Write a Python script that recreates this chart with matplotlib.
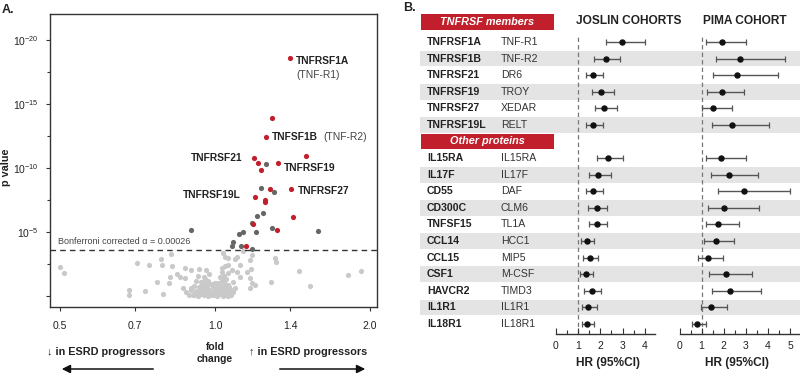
import numpy as np
import matplotlib
matplotlib.use('Agg')
import matplotlib.pyplot as plt
from matplotlib.patches import Rectangle
from matplotlib.ticker import FixedLocator, NullLocator, FixedFormatter
from matplotlib.transforms import blended_transform_factory

plt.rcParams['font.family'] = ['Liberation Sans', 'DejaVu Sans']
plt.rcParams['mathtext.fontset'] = 'custom'
plt.rcParams['mathtext.rm'] = 'Liberation Sans'
plt.rcParams['mathtext.it'] = 'Liberation Sans:italic'
plt.rcParams['mathtext.bf'] = 'Liberation Sans:bold'

# ---------------- Panel A data: fold change, -log10(p) ----------------
red_fc = [1.398, 1.289, 1.256, 1.502, 1.190, 1.210, 1.327, 1.227, 1.279, 1.403,
          1.196, 1.250, 1.253, 1.415, 1.187, 1.321, 1.149]
red_v = [18.6, 13.93, 12.4, 10.94, 10.8, 10.37, 10.41, 9.87, 8.38, 8.38,
         7.76, 7.37, 7.5, 6.15, 5.6, 5.16, 3.93]

dark_fc = [1.256, 1.227, 1.302, 1.238, 1.205, 1.180, 1.289, 0.898, 1.583, 1.200,
           1.115, 1.132, 1.085, 1.080, 1.125, 1.180]
dark_v = [10.34, 8.41, 8.13, 6.46, 6.25, 5.73, 5.34, 5.16, 5.05, 4.97,
          4.84, 4.97, 4.19, 3.93, 3.93, 3.65]

light_fc = [0.50, 0.51, 0.68, 0.68, 0.705, 0.73, 0.745, 0.77, 0.787, 0.79,
            0.792, 0.823, 0.825, 0.818, 0.815, 0.842, 0.855, 0.866, 0.874, 0.874,
            0.90, 0.905,
            1.036, 1.046, 1.061, 1.094, 1.178, 1.169, 1.308, 1.314, 1.046, 1.061,
            1.077, 1.102, 1.152, 1.173, 1.169, 1.178, 1.196, 1.169, 1.285, 1.458,
            1.53, 1.81, 1.92, 1.023, 1.03, 1.085, 1.094, 1.069, 1.132, 1.118,
            1.104, 1.118,
            0.89, 0.91, 0.925, 0.94, 0.95, 0.96, 0.97, 0.985, 1.0, 1.01,
            1.02, 1.035, 1.05, 1.06, 1.075,
            0.90, 0.92, 0.935, 0.95, 0.965, 0.98, 0.995, 1.01, 1.025, 1.04,
            1.055, 1.07,
            0.91, 0.93, 0.945, 0.96, 0.975, 0.99, 1.015, 1.03, 1.045, 1.06,
            0.92, 0.94, 0.955, 0.97, 1.0, 1.03, 1.05,
            0.925, 0.95, 0.975, 1.04, 1.06,
            0.93, 0.96, 1.03,
            0.88, 0.915, 0.933, 0.945, 0.958, 0.978, 0.993, 1.005, 1.018, 1.028,
            1.042, 1.058, 1.068, 1.085, 0.897, 0.938, 0.953, 0.968, 1.008, 1.022,
            1.048, 1.065, 0.943, 0.962, 0.988, 1.012, 1.038]
light_v = [2.25, 1.77, 0.47, 0.08, 2.55, 0.41, 2.42, 1.07, 2.86, 2.42,
           0.13, 3.28, 2.34, 1.45, 1.04, 1.69, 1.45, 0.65, 1.38, 2.2,
           2.03, 0.08,
           3.38, 3.02, 2.94, 2.89, 3.2, 2.81, 2.94, 2.68, 2.34, 2.42,
           2.03, 1.9, 1.9, 2.09, 1.38, 0.99, 0.86, 0.6, 1.07, 1.95,
           0.8, 1.64, 1.95, 1.51, 1.9, 1.12, 0.6, 0.21, 3.49, 2.42,
           3.02, 1.51,
           0.05, 0.1, 0.0, 0.12, 0.04, 0.15, 0.02, 0.1, 0.05, 0.0,
           0.12, 0.03, 0.08, 0.02, 0.1,
           0.45, 0.38, 0.5, 0.35, 0.55, 0.42, 0.33, 0.5, 0.4, 0.48,
           0.36, 0.52,
           0.8, 0.72, 0.9, 0.78, 0.95, 0.7, 0.85, 0.75, 0.92, 0.82,
           1.2, 1.1, 1.3, 1.15, 1.05, 1.25, 1.35,
           1.6, 1.5, 1.75, 1.55, 1.8,
           2.1, 2.0, 2.2,
           0.3, 0.25, 0.2, 0.28, 0.22, 0.27, 0.18, 0.24, 0.26, 0.2,
           0.25, 0.22, 0.3, 0.35, 0.62, 0.6, 0.65, 0.58, 0.62, 0.6,
           0.66, 0.7, 1.0, 0.95, 0.9, 1.0, 1.1]

bonferroni_p = 0.00026
x_ticks = [0.5, 0.7, 1.0, 1.4, 2.0]
x_ticklabels = ['0.5', '0.7', '1.0', '1.4', '2.0']
y_ticks = [0, 5, 10, 15, 20]
y_ticklabels = ['', r'$10^{-5}$', r'$10^{-10}$', r'$10^{-15}$', r'$10^{-20}$']

# labels: (text, fc, v, dx pt, dy pt, ha)
vol_labels = [('TNFRSF1A', 1.398, 18.6, 4.3, -2.4, 'left'),
              ('TNFSF1B', 1.256, 12.4, 4.3, 0.0, 'left'),
              ('TNFRSF21', 1.190, 10.8, -8.6, 0.0, 'right'),
              ('TNFRSF19', 1.327, 10.41, 4.1, -3.8, 'left'),
              ('TNFRSF19L', 1.196, 7.76, -10.0, 0.9, 'right'),
              ('TNFRSF27', 1.403, 8.38, 5.3, -1.7, 'left')]
vol_sublabels = [('(TNF-R1)', 1.398, 18.6, 4.3, -12.5),
                 ('(TNF-R2)', 1.256, 12.4, 41.0, 0.0)]

# ---------------- Panel B data ----------------
genes = ['TNFRSF1A', 'TNFRSF1B', 'TNFRSF21', 'TNFRSF19', 'TNFRSF27', 'TNFRSF19L',
         'IL15RA', 'IL17F', 'CD55', 'CD300C', 'TNFSF15', 'CCL14', 'CCL15', 'CSF1',
         'HAVCR2', 'IL1R1', 'IL18R1']
proteins = ['TNF-R1', 'TNF-R2', 'DR6', 'TROY', 'XEDAR', 'RELT',
            'IL15RA', 'IL17F', 'DAF', 'CLM6', 'TL1A', 'HCC1', 'MIP5', 'M-CSF',
            'TIMD3', 'IL1R1', 'IL18R1']
row_pos = [0, 1, 2, 3, 4, 5, 7, 8, 9, 10, 11, 12, 13, 14, 15, 16, 17]
shaded_rows = [1, 3, 5, 8, 10, 12, 14, 16]
group_headers = ['TNFRSF members', 'Other proteins']

joslin_hr = [2.99, 2.24, 1.66, 2.03, 2.16, 1.66, 2.36, 1.91, 1.66, 1.84, 1.84, 1.39, 1.54, 1.36, 1.61, 1.46, 1.42]
joslin_lo = [2.24, 1.72, 1.34, 1.61, 1.76, 1.34, 1.87, 1.49, 1.34, 1.46, 1.49, 1.13, 1.24, 1.09, 1.28, 1.19, 1.16]
joslin_hi = [4.00, 2.88, 2.13, 2.63, 2.73, 2.10, 3.03, 2.46, 2.13, 2.31, 2.28, 1.72, 1.91, 1.66, 2.03, 1.84, 1.73]
pima_hr = [1.91, 2.74, 2.62, 1.91, 1.53, 2.39, 1.88, 2.24, 2.92, 2.02, 1.73, 1.65, 1.30, 2.11, 2.29, 1.42, 0.80]
pima_lo = [1.20, 1.64, 1.53, 1.26, 1.00, 1.45, 1.20, 1.41, 1.73, 1.30, 1.18, 1.12, 0.85, 1.35, 1.45, 0.97, 0.55]
pima_hi = [3.02, 4.76, 4.45, 2.92, 2.36, 4.06, 3.00, 3.55, 5.02, 3.61, 2.71, 2.48, 1.95, 3.30, 3.70, 2.17, 1.20]

# ---------------- figure ----------------
W, H = 800, 373
fig = plt.figure(figsize=(8, 3.73), dpi=100)


def fx(px):
    return px / W


def fy(py):
    return 1 - py / H


RED = '#c01f2b'
DARK = '#666666'
LIGHT = '#c9c9c9'
TXT = '#222222'

# ---------- Panel A ----------
ax = fig.add_axes([fx(50), fy(307), 327 / W, 293 / H])
ax.set_xscale('log')
ax.set_xlim(0.478, 2.064)
ax.set_ylim(-0.86, 22.03)
ax.scatter(light_fc, light_v, s=14, c=LIGHT, linewidths=0, zorder=2)
ax.scatter(dark_fc, dark_v, s=14, c=DARK, linewidths=0, zorder=3)
ax.scatter(red_fc, red_v, s=14, c=RED, linewidths=0, zorder=4)
bonf = -np.log10(bonferroni_p)
ax.axhline(bonf, color='#333333', lw=1.0, dashes=(4, 3), zorder=5)
ax.text(0.0245, bonf + 0.7, 'Bonferroni corrected α = 0.00026', fontsize=6.5,
        color='#444444', va='center', ha='left',
        transform=blended_transform_factory(ax.transAxes, ax.transData))

ax.xaxis.set_major_locator(FixedLocator(x_ticks))
ax.xaxis.set_major_formatter(FixedFormatter(x_ticklabels))
ax.xaxis.set_minor_locator(NullLocator())
ax.yaxis.set_major_locator(FixedLocator(y_ticks))
ax.yaxis.set_major_formatter(FixedFormatter(y_ticklabels))
ax.yaxis.set_minor_locator(FixedLocator([2.5, 7.5, 12.5, 17.5]))
ax.tick_params(axis='both', which='major', labelsize=7.5, length=3, width=0.8,
               colors='#333333', labelcolor=TXT)
ax.tick_params(axis='x', pad=7)
ax.tick_params(axis='y', pad=5)
ax.tick_params(axis='y', which='minor', length=2, width=0.8, colors='#333333')
for s in ax.spines.values():
    s.set_linewidth(1.0)
    s.set_color('#333333')

for name, fc, v, dx, dy, ha in vol_labels:
    ax.annotate(name, (fc, v), xytext=(dx, dy), textcoords='offset points',
                fontsize=7.4, fontweight='bold', color=TXT, ha=ha, va='center')
for name, fc, v, dx, dy in vol_sublabels:
    ax.annotate(name, (fc, v), xytext=(dx, dy), textcoords='offset points',
                fontsize=7.4, color='#444444', ha='left', va='center')

fig.text(fx(2), fy(10), 'A.', fontsize=9, fontweight='bold', va='center', ha='left', color=TXT)
fig.text(fx(6), fy(167), 'p value', fontsize=7.8, fontweight='bold', rotation=90,
         va='center', ha='center', color=TXT)
fig.text(fx(106), fy(352), '↓ in ESRD progressors', fontsize=7.8, fontweight='bold',
         va='center', ha='center', color=TXT)
fig.text(fx(308), fy(352), '↑ in ESRD progressors', fontsize=7.8, fontweight='bold',
         va='center', ha='center', color=TXT)
fig.text(fx(215), fy(353), 'fold\nchange', fontsize=7.4, fontweight='bold',
         va='center', ha='center', color=TXT, linespacing=1.3)
fig.add_artist(matplotlib.patches.FancyArrowPatch(
    (fx(156), fy(369)), (fx(59), fy(369)), transform=fig.transFigure,
    arrowstyle='-|>,head_length=5,head_width=2.5', color='#111111', lw=1.1))
fig.add_artist(matplotlib.patches.FancyArrowPatch(
    (fx(277), fy(369)), (fx(368), fy(369)), transform=fig.transFigure,
    arrowstyle='-|>,head_length=5,head_width=2.5', color='#111111', lw=1.1))

# ---------- Panel B ----------
row_top, row_bot = -1.688, 17.603
bg = fig.add_axes([fx(420), fy(334), 380 / W, 320 / H])
bg.set_xlim(0, 1)
bg.set_ylim(row_bot, row_top)
bg.axis('off')
for r in shaded_rows:
    bg.axhspan(r - 0.47, r + 0.47, color='#e4e4e4', lw=0, zorder=0)
for g, p, r in zip(genes, proteins, row_pos):
    bg.text(0.0184, r, g, fontsize=7.6, fontweight='bold', color=TXT, va='center', ha='left')
    bg.text(0.2124, r, p, fontsize=7.6, color='#333333', va='center', ha='left')

# group header boxes
for label, ytop, ybot in [(group_headers[0], 14, 30), (group_headers[1], 134, 149)]:
    fig.patches.append(Rectangle((fx(420.7), fy(ybot)), 133.3 / W, (ybot - ytop) / H,
                                 transform=fig.transFigure, facecolor=RED,
                                 edgecolor='none', zorder=1))
    fig.text(fx(487), fy((ytop + ybot) / 2), label, fontsize=7.8, fontweight='bold',
             style='italic', color='white', ha='center', va='center', zorder=2)

fig.text(fx(629), fy(21), 'JOSLIN COHORTS', fontsize=8.6, fontweight='bold',
         ha='center', va='center', color=TXT)
fig.text(fx(745), fy(21), 'PIMA COHORT', fontsize=8.6, fontweight='bold',
         ha='center', va='center', color=TXT)
fig.text(fx(403), fy(8), 'B.', fontsize=9, fontweight='bold', va='center', ha='left', color=TXT)


def forest(axf, hr, lo, hi, xmax, nmax):
    axf.set_facecolor('none')
    axf.set_xlim(0, xmax)
    axf.set_ylim(row_bot, row_top)
    for s in ['top', 'left', 'right']:
        axf.spines[s].set_visible(False)
    axf.spines['bottom'].set_linewidth(1.0)
    axf.spines['bottom'].set_color('#333333')
    axf.set_yticks([])
    axf.set_xticks(range(0, nmax + 1))
    axf.xaxis.set_minor_locator(FixedLocator(np.arange(0.5, nmax + 0.6, 1.0)))
    axf.tick_params(axis='x', which='major', direction='in', length=4.5, width=0.8,
                    labelsize=7.5, pad=5, colors='#333333', labelcolor=TXT)
    axf.tick_params(axis='x', which='minor', direction='in', length=3, width=0.8,
                    colors='#333333')
    axf.axvline(1, ymin=0, ymax=0.934, color='#777777', lw=0.9, dashes=(3.5, 2.5), zorder=1)
    hr = np.array(hr); lo = np.array(lo); hi = np.array(hi)
    axf.errorbar(hr, row_pos, xerr=[hr - lo, hi - hr], fmt='o', ms=3.6,
                 mfc='#111111', mec='#111111', ecolor='#555555', elinewidth=1.0,
                 capsize=2.2, capthick=0.9, zorder=3)


axj = fig.add_axes([fx(555.7), fy(334), 99.3 / W, 320 / H])
forest(axj, joslin_hr, joslin_lo, joslin_hi, 4.45, 4)
axp = fig.add_axes([fx(679.5), fy(334), 120.5 / W, 320 / H])
forest(axp, pima_hr, pima_lo, pima_hi, 5.45, 5)

fig.text(fx(608), fy(363), 'HR (95%CI)', fontsize=8.6, fontweight='bold',
         ha='center', va='center', color=TXT)
fig.text(fx(737), fy(363), 'HR (95%CI)', fontsize=8.6, fontweight='bold',
         ha='center', va='center', color=TXT)

fig.savefig('out.png', dpi=100)
